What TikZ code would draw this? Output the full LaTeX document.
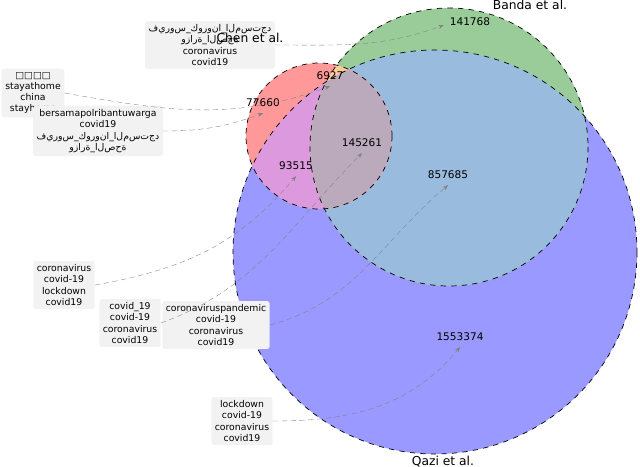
\documentclass[tikz,border=0pt]{standalone}
\usepackage{fontspec}
\setmainfont{DejaVu Sans}
\usetikzlibrary{arrows.meta}
\definecolor{bonly}{HTML}{9999FF}
\definecolor{gonly}{HTML}{99CC99}
\definecolor{ronly}{HTML}{FF9999}
\definecolor{gb}{HTML}{99BBDD}
\definecolor{rb}{HTML}{DD99DD}
\definecolor{rg}{HTML}{FFCC99}
\definecolor{rgb}{HTML}{BBAABB}
\tikzset{
  set/.style={draw=black, dashed, thin},
  tagbox/.style={fill=gray!10, rounded corners=1.5pt, align=center, inner sep=2pt,
    font=\fontsize{5.3}{6.4}\selectfont},
  num/.style={font=\fontsize{6}{7}\selectfont},
  setname/.style={font=\fontsize{7}{8}\selectfont},
  link/.style={gray, densely dashed, very thin, -{Stealth[length=3pt]}}
}
\newcommand{\cqazi}{(435,252) circle (202)}
\newcommand{\cbanda}{(449,147) circle (139)}
\newcommand{\cchen}{(319,136) circle (73)}
\begin{document}
\begin{tikzpicture}[x=0.02cm, y=-0.02cm]
\useasboundingbox (0,0) rectangle (640,467);
% the three sets, region by region
\fill[bonly] \cqazi;
\fill[gonly] \cbanda;
\begin{scope}\clip \cbanda; \fill[gb] \cqazi; \end{scope}
\fill[ronly] \cchen;
\begin{scope}\clip \cchen; \fill[rb] \cqazi; \fill[rg] \cbanda; \end{scope}
\begin{scope}\clip \cchen; \clip \cbanda; \fill[rgb] \cqazi; \end{scope}
\draw[set] \cqazi;
\draw[set] \cbanda;
\draw[set] \cchen;
% region sizes
\node[num] (g)   at (470,22)  {141768};
\node[num] (rg)  at (330,76)  {6927};
\node[num] (r)   at (263,103) {77660};
\node[num] (rgb) at (362,143) {145261};
\node[num] (rb)  at (296,166) {93515};
\node[num] (gb)  at (448,175) {857685};
\node[num] (b)   at (460,337) {1553374};
% hashtag boxes
\node[tagbox] (tg) at (210,45) {دجتسملا\_انوروك\_سوريف\\ةحصلا\_ةرازو\\coronavirus\\covid19};
\node[tagbox] (tgr) at (33,93) {□□□□\\stayathome\\china\\stayhome};
\node[tagbox] (tr) at (98,131) {bersamapolribantuwarga\\covid19\\دجتسملا\_انوروك\_سوريف\\ةحصلا\_ةرازو};
\node[tagbox] (trb) at (64,285) {coronavirus\\covid-19\\lockdown\\covid19};
\node[tagbox] (trgb) at (130,323) {covid\_19\\covid-19\\coronavirus\\covid19};
\node[tagbox] (tgb) at (216,325) {coronaviruspandemic\\covid-19\\coronavirus\\covid19};
\node[tagbox] (tb) at (242,421) {lockdown\\covid-19\\coronavirus\\covid19};
% set names
\node[setname] (banda) at (530,5) {Banda et al.};
\node[setname] (chen)  at (250,38) {Chen et al.};
\node[setname] (qazi)  at (443,462) {Qazi et al.};
% links
\draw[link] (tg.east)  to[out=0, in=200] ([yshift=4pt]g.south west);
\draw[link] (tgr.east) to[out=-10, in=200] (rg.south);
\draw[link] (tr.east)  to[out=0, in=200] (r.south);
\draw[link] (trb.east) to[out=10, in=230] (rb.south);
\draw[link] (trgb.east) to[out=20, in=225] (rgb.south);
\draw[link] (tgb.east) to[out=15, in=220] (gb.south);
\draw[link] (tb.east)  to[out=0, in=230] (b.south);
\end{tikzpicture}
\end{document}
